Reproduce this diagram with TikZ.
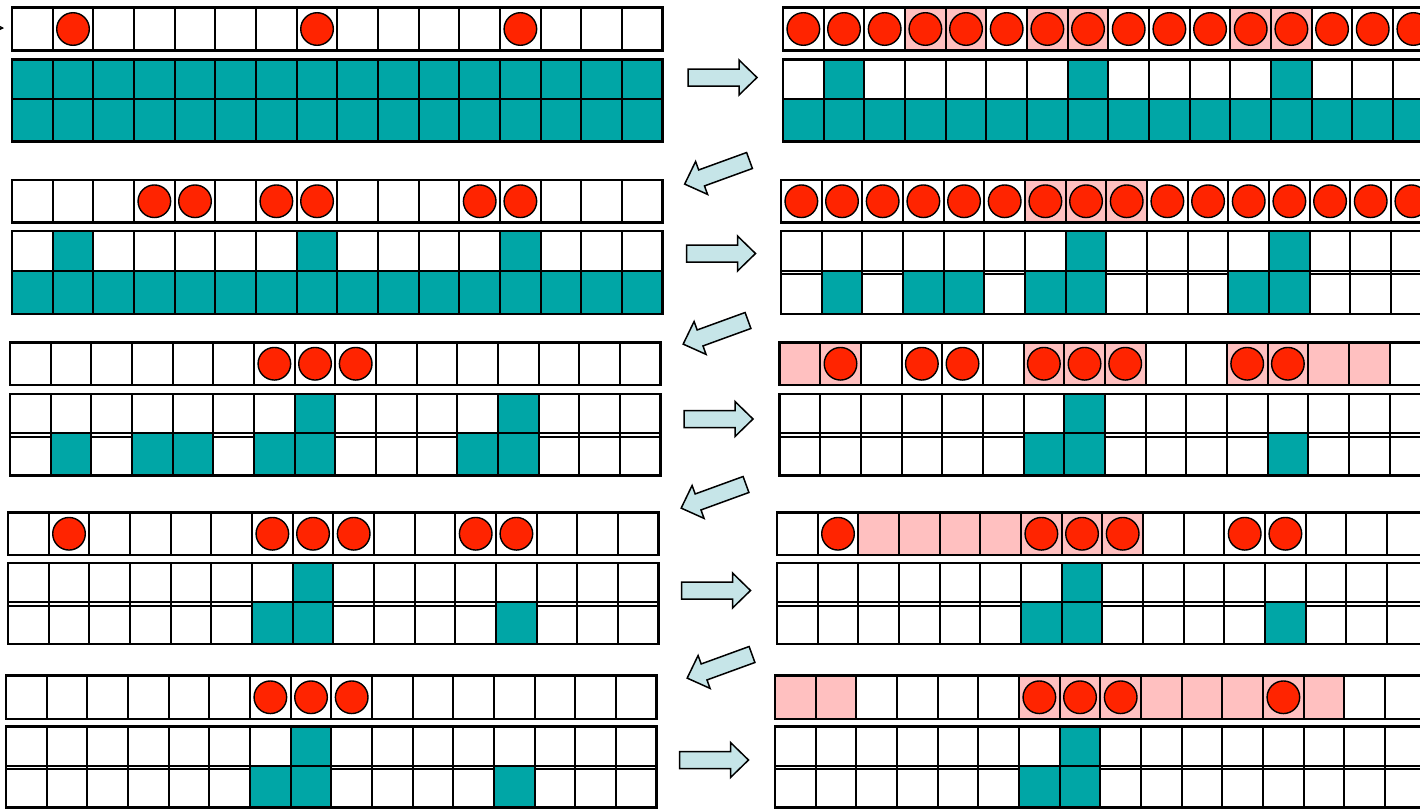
\documentclass[tikz,border=0pt]{standalone}
\usetikzlibrary{arrows.meta}
\definecolor{tealcell}{RGB}{0,166,166}
\definecolor{ballred}{RGB}{255,36,0}
\definecolor{pinkcell}{RGB}{255,192,192}
\definecolor{arrowfill}{RGB}{198,229,232}
\newcommand\cellw{40.67}
\tikzset{
  cellline/.style={line width=2pt, draw=black},
  outerline/.style={line width=2.6pt, draw=black},
  ball/.style={fill=ballred, draw=black, line width=1.4pt},
  blockarr/.style={fill=arrowfill, draw=black, line width=1.5pt, line join=miter},
}
% x0, ytop, ybot, balls, pinks
\newcommand\ballrow[5]{%
  \foreach \i in {#5} {\ifnum\i<16 \fill[pinkcell] ({#1+\i*\cellw},#2) rectangle ({#1+(\i+1)*\cellw},#3);\fi}
  \foreach \i in {1,...,15} {\draw[cellline] ({#1+\i*\cellw},#2) -- ({#1+\i*\cellw},#3);}
  \foreach \i in {#4} {\draw[ball] ({#1+(\i+0.5)*\cellw},{(#2+#3)/2}) circle (16.3pt);}
  \draw[outerline] (#1,#2) rectangle ({#1+16*\cellw},#3);
}
% x0, ytop, ymid, ybot, topteal, botteal, double
\newcommand\gridrows[7]{%
  \ifnum#7=1 \draw[cellline] (#1,{#3+3.5}) -- ({#1+16*\cellw},{#3+3.5});\fi
  \foreach \i in {#5} {\ifnum\i<16 \fill[tealcell] ({#1+\i*\cellw},#2) rectangle ({#1+(\i+1)*\cellw},#3);\fi}
  \foreach \i in {#6} {\ifnum\i<16 \fill[tealcell] ({#1+\i*\cellw},#3) rectangle ({#1+(\i+1)*\cellw},#4);\fi}
  \draw[cellline] (#1,#3) -- ({#1+16*\cellw},#3);
  \foreach \i in {1,...,15} {\draw[cellline] ({#1+\i*\cellw},#2) -- ({#1+\i*\cellw},#4);}
  \draw[outerline] (#1,#2) rectangle ({#1+16*\cellw},#4);
}
% x, y (tail centre), angle
\newcommand\blockarrow[3]{%
  \draw[blockarr, shift={(#1,#2)}, rotate=#3] (0,-8.5) -- (51,-8.5) -- (51,-17.5) -- (69,0) -- (51,17.5) -- (51,8.5) -- (0,8.5) -- cycle;
}
\begin{document}
\begin{tikzpicture}[x=1pt, y=-1pt]
\useasboundingbox (0,0) rectangle (1420,809);
\clip (0,0) rectangle (1420,809);
\fill[white] (0,0) rectangle (1420,809);

% tiny incoming arrow at top left
\coordinate (inS) at (-20,28);
\coordinate (inE) at (4,28);
\draw[line width=1pt, -{Stealth[length=5pt,width=5pt]}] (inS) -- (inE);

% ---- panel 1
\ballrow{12}{7.5}{50.5}{1,7,12}{99}
\gridrows{12}{59.5}{99}{141.5}{0,...,15}{0,...,15}{0}
\ballrow{783}{7.5}{50.5}{0,...,15}{3,4,6,7,11,12}
\gridrows{783}{59.5}{99}{141.5}{1,7,12}{0,...,15}{0}

% ---- panel 2
\ballrow{12}{180}{222.5}{3,4,6,7,11,12}{99}
\gridrows{12}{231}{270.5}{314}{1,7,12}{0,...,15}{0}
\ballrow{781}{180}{222.5}{0,...,15}{6,7,8}
\gridrows{781}{231}{270.5}{314}{7,12}{1,3,4,6,7,11,12}{1}

% ---- panel 3
\ballrow{10}{342.5}{385}{6,7,8}{99}
\gridrows{10}{394}{433}{475.5}{7,12}{1,3,4,6,7,11,12}{1}
\ballrow{779.5}{342.5}{385}{1,3,4,6,7,8,11,12}{0,1,6,7,8,11,12,13,14}
\gridrows{779.5}{394}{433}{475.5}{7}{6,7,12}{1}

% ---- panel 4
\ballrow{8}{512.5}{555}{1,6,7,8,11,12}{99}
\gridrows{8}{563}{602}{644}{7}{6,7,12}{1}
\ballrow{777}{512.5}{555}{1,6,7,8,11,12}{2,3,4,5,6,7,8}
\gridrows{777}{563}{602}{644}{7}{6,7,12}{1}

% ---- panel 5
\ballrow{6}{675.5}{719}{6,7,8}{99}
\gridrows{6}{726.5}{765.5}{807.5}{7}{6,7,12}{1}
\ballrow{775}{675.5}{719}{6,7,8,12}{0,1,6,7,8,9,10,11,12,13}
\gridrows{775}{726.5}{765.5}{807.5}{7}{6,7}{1}

% ---- right arrows
\blockarrow{688}{77.5}{0}
\blockarrow{686.5}{253.5}{0}
\blockarrow{684}{419}{0}
\blockarrow{681.5}{590.5}{0}
\blockarrow{679.5}{760}{0}

% ---- diagonal arrows
\blockarrow{749.5}{160.5}{200}
\blockarrow{748}{320.5}{200}
\blockarrow{746}{484.5}{200}
\blockarrow{752}{654.5}{200}
\end{tikzpicture}
\end{document}
